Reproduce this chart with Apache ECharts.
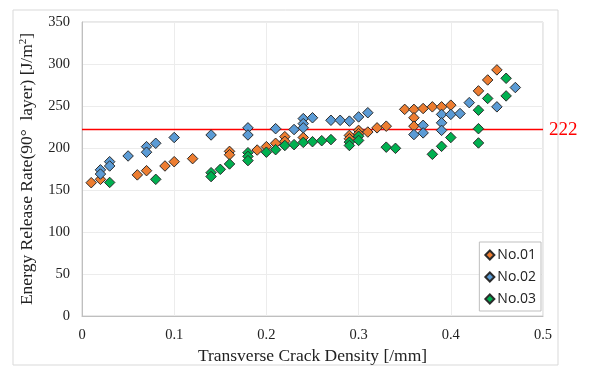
<!DOCTYPE html>
<html><head><meta charset="utf-8">
<script src="https://cdn.jsdelivr.net/npm/echarts@6/dist/echarts.min.js"></script>
<style>html,body{margin:0;padding:0;background:#fff}#c{width:592px;height:374px}</style>
</head><body><div id="c"></div>
<script>
const xTicks = [0, 0.1, 0.2, 0.3, 0.4, 0.5];
const yTicks = [0, 50, 100, 150, 200, 250, 300, 350];
const seriesNames = ['No.01', 'No.02', 'No.03'];
const thresholdValue = 222;

const no01X = [0.01,0.02,0.06,0.07,0.09,0.10,0.12,0.16,0.16,0.19,0.20,0.21,0.22,0.22,0.24,0.29,0.29,0.30,0.30,0.31,0.32,0.33,0.35,0.36,0.36,0.36,0.37,0.38,0.39,0.40,0.43,0.44,0.45];
const no01Y = [158.7,162.7,168,173,178.6,183.7,187.3,196,192,197.6,201.6,205.6,213.5,208,212.5,215,211,221,217,219,224,226,246,246,236,226,247,249,249,251,268,281,293];

const no02X = [0.02,0.02,0.03,0.03,0.05,0.07,0.07,0.08,0.10,0.14,0.18,0.18,0.21,0.23,0.24,0.24,0.24,0.25,0.27,0.28,0.29,0.30,0.31,0.36,0.37,0.37,0.39,0.39,0.39,0.40,0.41,0.42,0.45,0.47];
const no02Y = [174,169,183.7,178.6,190.5,201.6,195,205.6,212.5,215.5,224,215.5,223,222,235,229,224,236,233,233,232,237,242,216,227,218,240,230,221,240,241,254,249,272];

const no03X = [0.03,0.08,0.14,0.14,0.15,0.16,0.18,0.18,0.18,0.20,0.21,0.22,0.23,0.24,0.25,0.26,0.27,0.29,0.29,0.30,0.30,0.33,0.34,0.38,0.39,0.40,0.43,0.43,0.43,0.44,0.46,0.46];
const no03Y = [159,162.7,170.6,166,174.6,181,194.4,190,185,195,198,203,204,206.7,207.5,208.7,210,207,203,214,209,201,199.6,192.5,202,212.5,245,223,206,259,283,262];

const colors = ['#ED7D31', '#5B9BD5', '#00B050'];
function zip(xs, ys){ return xs.map((x,i)=>[x, ys[i]]); }
const allData = [zip(no01X,no01Y), zip(no02X,no02Y), zip(no03X,no03Y)];

const chart = echarts.init(document.getElementById('c'));
const serif = '"Liberation Serif", "Times New Roman", serif';
const series = [{
  name: 'threshold', type: 'line', silent: true, symbol: 'none', showSymbol: false,
  data: [[xTicks[0], thresholdValue], [xTicks[xTicks.length-1], thresholdValue]],
  color: 'rgb(255,0,0)',
  lineStyle: { color: 'rgb(255,0,0)', width: 1.5, opacity: 1 },
  itemStyle: { color: 'rgb(255,0,0)' },
  endLabel: { show: true, formatter: String(thresholdValue), color: '#FF0000', fontFamily: serif, fontSize: 19, distance: 6 },
  z: 2
}];
seriesNames.forEach((n,i)=>series.push({
  name: n, type: 'scatter', data: allData[i], symbol: 'diamond', symbolSize: 10.5,
  itemStyle: { color: colors[i], borderColor: '#2b2b2b', borderWidth: 1, opacity: 1 },
  z: 3
}));

chart.setOption({
  animation: false,
  backgroundColor: '#fff',
  graphic: [{ type: 'rect', shape: { x: 13, y: 10, width: 545, height: 355 }, style: { fill: 'none', stroke: '#d9d9d9', lineWidth: 1 }, z: -1 },
            { type: 'rect', shape: { x: 82, y: 22, width: 461, height: 294 }, style: { fill: 'none', stroke: '#d0d0d0', lineWidth: 1 }, z: 0 }],
  grid: { left: 82, right: 49, top: 22, bottom: 58, containLabel: false },
  legend: {
    orient: 'vertical', right: 51, top: 242,
    data: seriesNames, itemWidth: 9, itemHeight: 9, itemGap: 8,
    backgroundColor: '#fff', borderColor: '#bfbfbf', borderWidth: 1,
    padding: [6, 5, 5, 5],
    textStyle: { fontFamily: '"Open Sans", "Liberation Sans", sans-serif', fontSize: 14, color: '#222', padding: [0,0,0,-2] }
  },
  xAxis: {
    type: 'value', min: xTicks[0], max: xTicks[xTicks.length-1], interval: 0.1,
    name: 'Transverse Crack Density [/mm]', nameLocation: 'middle', nameGap: 31,
    nameTextStyle: { fontFamily: serif, fontSize: 17.5, color: '#222' },
    axisLine: { show: true, lineStyle: { color: '#bfbfbf', width: 1 } },
    axisTick: { show: false },
    axisLabel: { fontFamily: serif, fontSize: 14.5, color: '#222', margin: 12, formatter: v => String(+v.toFixed(1)) },
    splitLine: { show: true, lineStyle: { color: '#ececec' } }
  },
  yAxis: {
    type: 'value', min: yTicks[0], max: yTicks[yTicks.length-1], interval: 50,
    name: '{a|Energy Release Rate(90°  layer) [J/m}{s|2}{a|]}', nameLocation: 'middle', nameGap: 45,
    nameTextStyle: { rich: { a: { fontFamily: serif, fontSize: 17.5, color: '#222' }, s: { fontFamily: serif, fontSize: 11, color: '#222', verticalAlign: 'top', padding: [0,0,8,0] } } },
    axisLine: { show: true, lineStyle: { color: '#bfbfbf', width: 1 } },
    axisTick: { show: false },
    axisLabel: { fontFamily: serif, fontSize: 14.5, color: '#222', margin: 12 },
    splitLine: { show: true, lineStyle: { color: '#ececec' } }
  },
  series: series
});
</script></body></html>
